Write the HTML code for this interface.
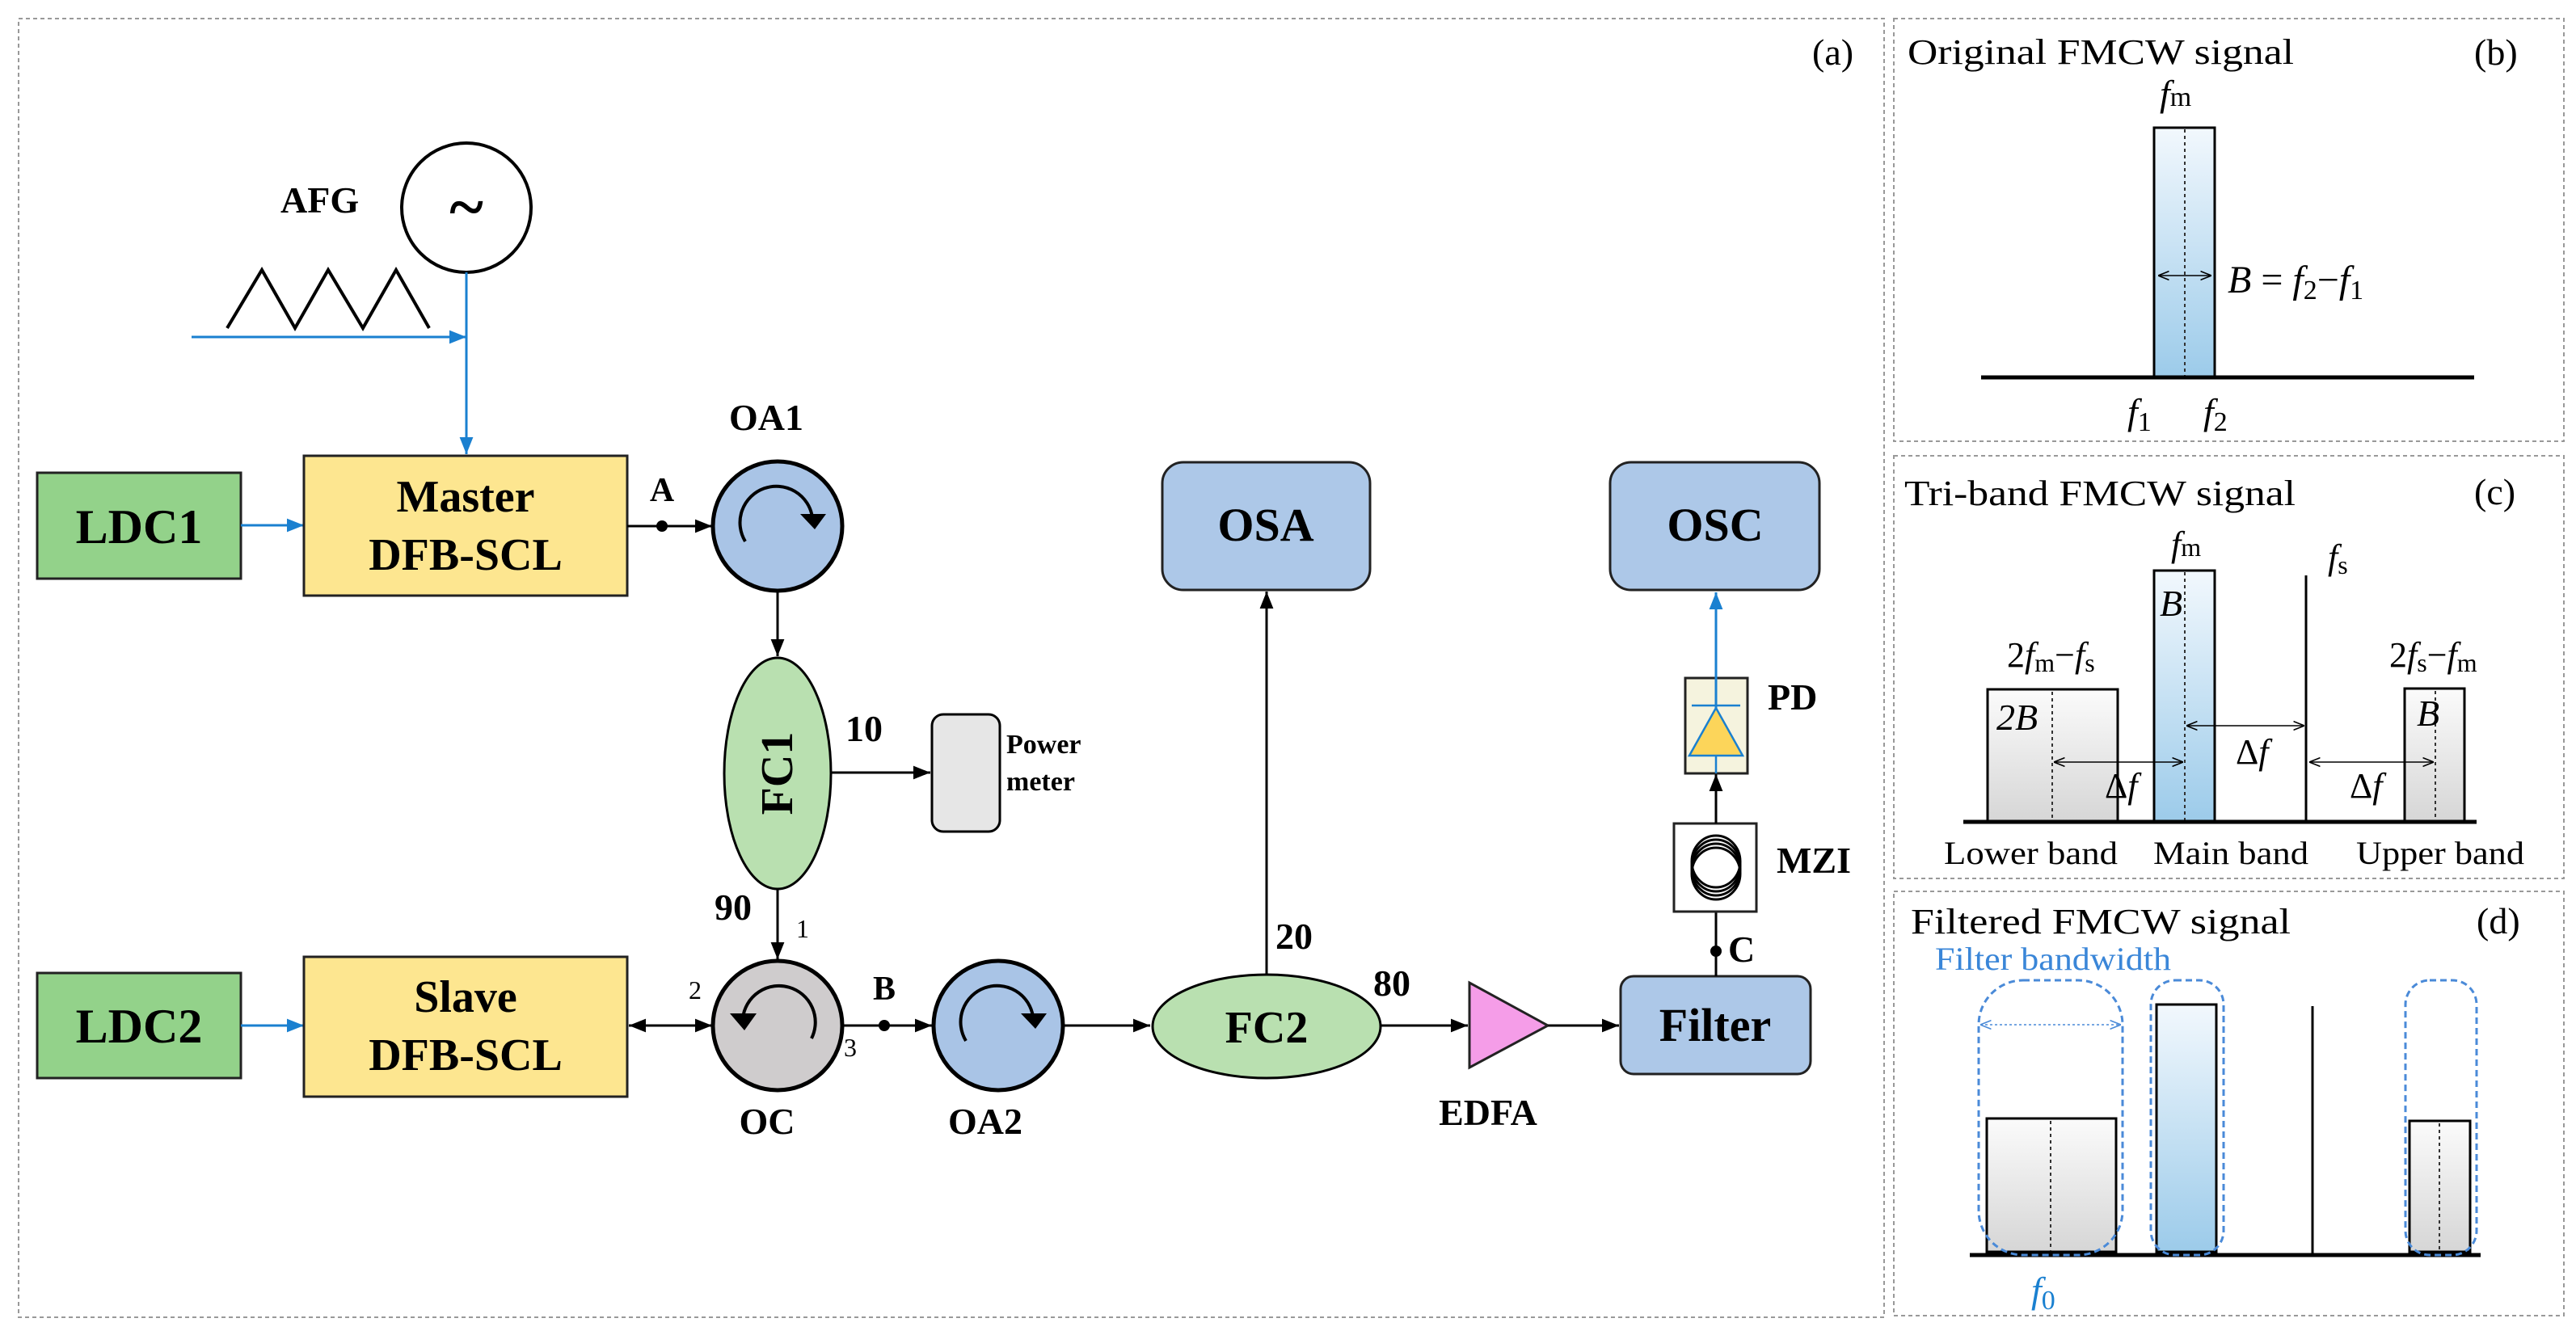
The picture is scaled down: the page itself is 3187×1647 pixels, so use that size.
<!DOCTYPE html>
<html><head><meta charset="utf-8"><style>html,body{margin:0;padding:0;background:#fff}svg{display:block}</style></head>
<body>
<svg width="3187" height="1647" viewBox="0 0 3187 1647" xmlns="http://www.w3.org/2000/svg" font-family="'Liberation Serif', serif">
<defs>
<marker id="ak" viewBox="0 0 10 10" refX="10" refY="5" markerWidth="7" markerHeight="7" orient="auto-start-reverse" markerUnits="strokeWidth"><path d="M0,1 L10,5 L0,9 z" fill="#000"/></marker>
<marker id="ab" viewBox="0 0 10 10" refX="10" refY="5" markerWidth="7" markerHeight="7" orient="auto" markerUnits="strokeWidth"><path d="M0,1 L10,5 L0,9 z" fill="#1a80d0"/></marker>
<marker id="as" viewBox="0 0 10 10" refX="10" refY="5" markerWidth="9" markerHeight="9" orient="auto-start-reverse" markerUnits="strokeWidth"><path d="M0,1 L10,5 L0,9" fill="none" stroke="#000" stroke-width="1.2"/></marker>
<marker id="abd" viewBox="0 0 10 10" refX="10" refY="5" markerWidth="9" markerHeight="9" orient="auto-start-reverse" markerUnits="strokeWidth"><path d="M0,1 L10,5 L0,9" fill="none" stroke="#4a8ad8" stroke-width="1.2"/></marker>
<linearGradient id="gb" x1="0" y1="0" x2="0" y2="1"><stop offset="0" stop-color="#f2f8fd"/><stop offset="1" stop-color="#9ccbea"/></linearGradient>
<linearGradient id="gg" x1="0" y1="0" x2="0" y2="1"><stop offset="0" stop-color="#fbfbfb"/><stop offset="1" stop-color="#d6d6d6"/></linearGradient>
</defs>

<!-- panel borders -->
<g fill="none" stroke="#999" stroke-width="2" stroke-dasharray="5,4">
<rect x="23" y="23" width="2308" height="1607"/>
<rect x="2343" y="23" width="829" height="523"/>
<rect x="2343" y="564" width="829" height="523"/>
<rect x="2343" y="1103" width="829" height="525"/>
</g>

<!-- (a) -->
<g font-weight="bold" fill="#000">
<text x="2242" y="80" font-size="46" font-weight="normal">(a)</text>

<!-- AFG -->
<circle cx="577" cy="257" r="80" fill="#fff" stroke="#000" stroke-width="4"/>
<text x="577" y="283" font-size="80" text-anchor="middle">~</text>
<text x="347" y="263" font-size="46">AFG</text>
<polyline points="281,406 324,334 365,406 406,334 449,406 490,334 531,406" fill="none" stroke="#000" stroke-width="4"/>
<line x1="237" y1="417" x2="577" y2="417" stroke="#1a80d0" stroke-width="3" marker-end="url(#ab)"/>
<line x1="577" y1="337" x2="577" y2="562" stroke="#1a80d0" stroke-width="3" marker-end="url(#ab)"/>

<!-- LDC / lasers -->
<rect x="46" y="585" width="252" height="131" fill="#93d28a" stroke="#222" stroke-width="3"/>
<text x="172" y="672" font-size="60" text-anchor="middle">LDC1</text>
<rect x="46" y="1204" width="252" height="130" fill="#93d28a" stroke="#222" stroke-width="3"/>
<text x="172" y="1290" font-size="60" text-anchor="middle">LDC2</text>
<line x1="298" y1="650" x2="376" y2="650" stroke="#1a80d0" stroke-width="3" marker-end="url(#ab)"/>
<line x1="298" y1="1269" x2="376" y2="1269" stroke="#1a80d0" stroke-width="3" marker-end="url(#ab)"/>
<rect x="376" y="564" width="400" height="173" fill="#fde690" stroke="#222" stroke-width="3"/>
<text x="576" y="633" font-size="56" text-anchor="middle">Master</text>
<text x="576" y="705" font-size="56" text-anchor="middle">DFB-SCL</text>
<rect x="376" y="1184" width="400" height="173" fill="#fde690" stroke="#222" stroke-width="3"/>
<text x="576" y="1252" font-size="56" text-anchor="middle">Slave</text>
<text x="576" y="1324" font-size="56" text-anchor="middle">DFB-SCL</text>

<!-- A -->
<line x1="776" y1="651" x2="881" y2="651" stroke="#000" stroke-width="3" marker-end="url(#ak)"/>
<circle cx="819" cy="651" r="7"/>
<text x="819" y="620" font-size="42" text-anchor="middle">A</text>

<!-- OA1 -->
<circle cx="962" cy="651" r="80" fill="#a9c4e6" stroke="#000" stroke-width="5"/>
<path d="M922,670 A45,45 0 1 1 1005,640" fill="none" stroke="#000" stroke-width="4"/>
<path d="M990,636 L1022,636 L1008,655 z" fill="#000"/>
<text x="948" y="532" font-size="46" text-anchor="middle">OA1</text>
<line x1="962" y1="731" x2="962" y2="812" stroke="#000" stroke-width="3" marker-end="url(#ak)"/>

<!-- FC1 -->
<ellipse cx="962" cy="957" rx="66" ry="143" fill="#b9e0b0" stroke="#000" stroke-width="3"/>
<text transform="translate(980,957) rotate(-90)" font-size="56" text-anchor="middle">FC1</text>
<text x="1046" y="917" font-size="46">10</text>
<line x1="1028" y1="956" x2="1151" y2="956" stroke="#000" stroke-width="3" marker-end="url(#ak)"/>
<rect x="1153" y="884" width="84" height="145" rx="14" fill="#e6e6e6" stroke="#000" stroke-width="3"/>
<text x="1245" y="932" font-size="34">Power</text>
<text x="1245" y="978" font-size="34">meter</text>
<text x="884" y="1138" font-size="46">90</text>
<text x="985" y="1160" font-size="32" font-weight="normal">1</text>
<line x1="962" y1="1100" x2="962" y2="1187" stroke="#000" stroke-width="3" marker-end="url(#ak)"/>

<!-- OC -->
<circle cx="962" cy="1269" r="80" fill="#cfcccd" stroke="#000" stroke-width="5"/>
<path d="M919,1260 A45,45 0 1 1 1004,1285" fill="none" stroke="#000" stroke-width="4"/>
<path d="M903,1254 L936,1254 L921,1275 z" fill="#000"/>
<text x="949" y="1403" font-size="46" text-anchor="middle">OC</text>
<text x="852" y="1236" font-size="32" font-weight="normal">2</text>
<text x="1044" y="1307" font-size="32" font-weight="normal">3</text>
<line x1="778" y1="1269" x2="881" y2="1269" stroke="#000" stroke-width="3" marker-start="url(#ak)" marker-end="url(#ak)"/>

<!-- B / OA2 -->
<line x1="1042" y1="1269" x2="1153" y2="1269" stroke="#000" stroke-width="3" marker-end="url(#ak)"/>
<circle cx="1094" cy="1269" r="7"/>
<text x="1094" y="1237" font-size="42" text-anchor="middle">B</text>
<circle cx="1235" cy="1269" r="80" fill="#a9c4e6" stroke="#000" stroke-width="5"/>
<path d="M1195,1288 A45,45 0 1 1 1278,1258" fill="none" stroke="#000" stroke-width="4"/>
<path d="M1263,1254 L1295,1254 L1281,1273 z" fill="#000"/>
<text x="1219" y="1403" font-size="46" text-anchor="middle">OA2</text>
<line x1="1315" y1="1269" x2="1423" y2="1269" stroke="#000" stroke-width="3" marker-end="url(#ak)"/>

<!-- FC2 -->
<ellipse cx="1567" cy="1270" rx="141" ry="64" fill="#b9e0b0" stroke="#000" stroke-width="3"/>
<text x="1567" y="1290" font-size="56" text-anchor="middle">FC2</text>
<line x1="1567" y1="1206" x2="1567" y2="732" stroke="#000" stroke-width="3" marker-end="url(#ak)"/>
<text x="1578" y="1174" font-size="46">20</text>
<rect x="1438" y="572" width="257" height="158" rx="26" fill="#adc8e8" stroke="#222" stroke-width="3"/>
<text x="1566" y="669" font-size="58" text-anchor="middle">OSA</text>
<text x="1699" y="1232" font-size="46">80</text>
<line x1="1708" y1="1269" x2="1816" y2="1269" stroke="#000" stroke-width="3" marker-end="url(#ak)"/>

<!-- EDFA -->
<polygon points="1818,1216 1818,1321 1915,1269" fill="#f59de8" stroke="#222" stroke-width="3"/>
<text x="1841" y="1392" font-size="46" text-anchor="middle">EDFA</text>
<line x1="1915" y1="1269" x2="2003" y2="1269" stroke="#000" stroke-width="3" marker-end="url(#ak)"/>

<!-- Filter -->
<rect x="2005" y="1208" width="235" height="121" rx="16" fill="#adc8e8" stroke="#222" stroke-width="3"/>
<text x="2122" y="1288" font-size="58" text-anchor="middle">Filter</text>
<line x1="2123" y1="1208" x2="2123" y2="1019" stroke="#000" stroke-width="3" marker-end="url(#ak)"/>
<circle cx="2123" cy="1177" r="7"/>
<text x="2138" y="1190" font-size="46">C</text>

<!-- MZI -->
<rect x="2071" y="1019" width="102" height="109" fill="#fff" stroke="#222" stroke-width="3"/>
<g fill="none" stroke="#000" stroke-width="3">
<ellipse cx="2123" cy="1066" rx="30" ry="32"/>
<ellipse cx="2123" cy="1071" rx="30" ry="32"/>
<ellipse cx="2123" cy="1076" rx="30" ry="32"/>
<ellipse cx="2123" cy="1081" rx="30" ry="32"/>
</g>
<text x="2198" y="1080" font-size="46">MZI</text>
<line x1="2123" y1="1019" x2="2123" y2="958" stroke="#000" stroke-width="3" marker-end="url(#ak)"/>

<!-- PD -->
<rect x="2085" y="839" width="77" height="118" fill="#f5f3de" stroke="#222" stroke-width="3"/>
<polygon points="2123,876 2090,935 2156,935" fill="#fcd55a" stroke="#1a80d0" stroke-width="2.5"/>
<line x1="2093" y1="873" x2="2153" y2="873" stroke="#1a80d0" stroke-width="2.5"/>
<line x1="2123" y1="935" x2="2123" y2="957" stroke="#1a80d0" stroke-width="2.5"/>
<line x1="2123" y1="876" x2="2123" y2="733" stroke="#1a80d0" stroke-width="3" marker-end="url(#ab)"/>
<text x="2187" y="878" font-size="46">PD</text>

<!-- OSC -->
<rect x="1992" y="572" width="259" height="158" rx="26" fill="#adc8e8" stroke="#222" stroke-width="3"/>
<text x="2122" y="669" font-size="58" text-anchor="middle">OSC</text>
</g>

<!-- (b) -->
<g fill="#000" font-size="44">
<text x="2360" y="79" textLength="478" lengthAdjust="spacingAndGlyphs">Original FMCW signal</text>
<text x="3061" y="80" font-size="46">(b)</text>
<rect x="2665" y="158" width="75" height="309" fill="url(#gb)" stroke="#000" stroke-width="3"/>
<line x1="2703" y1="160" x2="2703" y2="466" stroke="#333" stroke-width="2" stroke-dasharray="4,4"/>
<text x="2672" y="131" font-size="46" font-style="italic">f<tspan font-style="normal" font-size="34">m</tspan></text>
<line x1="2670" y1="341" x2="2736" y2="341" stroke="#000" stroke-width="1.5" marker-start="url(#as)" marker-end="url(#as)"/>
<text x="2756" y="362" font-size="48" font-style="italic">B <tspan font-style="normal">=</tspan> f<tspan font-style="normal" font-size="34" dy="8">2</tspan><tspan dy="-8" font-style="normal">−</tspan>f<tspan font-style="normal" font-size="34" dy="8">1</tspan></text>
<line x1="2451" y1="467" x2="3061" y2="467" stroke="#000" stroke-width="5"/>
<text x="2632" y="525" font-size="46" font-style="italic">f<tspan font-style="normal" font-size="34" dy="8">1</tspan></text>
<text x="2726" y="525" font-size="46" font-style="italic">f<tspan font-style="normal" font-size="34" dy="8">2</tspan></text>
</g>

<!-- (c) -->
<g fill="#000" font-size="44">
<text x="2356" y="625" textLength="484" lengthAdjust="spacingAndGlyphs">Tri-band FMCW signal</text>
<text x="3061" y="624" font-size="46">(c)</text>
<rect x="2459" y="853" width="161" height="164" fill="url(#gg)" stroke="#000" stroke-width="3"/>
<line x1="2539" y1="856" x2="2539" y2="1016" stroke="#333" stroke-width="2" stroke-dasharray="4,4"/>
<rect x="2665" y="706" width="75" height="311" fill="url(#gb)" stroke="#000" stroke-width="3"/>
<line x1="2703" y1="708" x2="2703" y2="1016" stroke="#333" stroke-width="2" stroke-dasharray="4,4"/>
<rect x="2975" y="852" width="74" height="165" fill="url(#gg)" stroke="#000" stroke-width="3"/>
<line x1="3013" y1="855" x2="3013" y2="1016" stroke="#333" stroke-width="2" stroke-dasharray="4,4"/>
<line x1="2853" y1="712" x2="2853" y2="1017" stroke="#000" stroke-width="3"/>
<text x="2686" y="688" font-size="44" font-style="italic">f<tspan font-style="normal" font-size="32">m</tspan></text>
<text x="2880" y="704" font-size="44" font-style="italic">f<tspan font-style="normal" font-size="32" dy="6">s</tspan></text>
<text x="2672" y="762" font-size="46" font-style="italic">B</text>
<text x="2470" y="903" font-size="46" font-style="italic">2B</text>
<text x="2990" y="898" font-size="46" font-style="italic">B</text>
<text x="2483" y="825" font-size="44">2<tspan font-style="italic">f</tspan><tspan font-size="32" dy="6">m</tspan><tspan dy="-6">−</tspan><tspan font-style="italic">f</tspan><tspan font-size="32" dy="6">s</tspan></text>
<text x="2956" y="825" font-size="44">2<tspan font-style="italic">f</tspan><tspan font-size="32" dy="6">s</tspan><tspan dy="-6">−</tspan><tspan font-style="italic">f</tspan><tspan font-size="32" dy="6">m</tspan></text>
<line x1="2541" y1="943" x2="2701" y2="943" stroke="#000" stroke-width="1.5" marker-start="url(#as)" marker-end="url(#as)"/>
<line x1="2705" y1="898" x2="2851" y2="898" stroke="#000" stroke-width="1.5" marker-start="url(#as)" marker-end="url(#as)"/>
<line x1="2857" y1="943" x2="3011" y2="943" stroke="#000" stroke-width="1.5" marker-start="url(#as)" marker-end="url(#as)"/>
<text x="2604" y="987" font-size="44">Δ<tspan font-style="italic">f</tspan></text>
<text x="2766" y="945" font-size="44">Δ<tspan font-style="italic">f</tspan></text>
<text x="2907" y="987" font-size="44">Δ<tspan font-style="italic">f</tspan></text>
<line x1="2429" y1="1017" x2="3064" y2="1017" stroke="#000" stroke-width="5"/>
<text x="2405" y="1069" font-size="40" textLength="215" lengthAdjust="spacingAndGlyphs">Lower band</text>
<text x="2664" y="1069" font-size="40" textLength="192" lengthAdjust="spacingAndGlyphs">Main band</text>
<text x="2915" y="1069" font-size="40" textLength="208" lengthAdjust="spacingAndGlyphs">Upper band</text>
</g>

<!-- (d) -->
<g fill="#000" font-size="44">
<text x="2364" y="1155" textLength="470" lengthAdjust="spacingAndGlyphs">Filtered FMCW signal</text>
<text x="3064" y="1155" font-size="46">(d)</text>
<text x="2394" y="1200" font-size="40" fill="#3a86d8" textLength="292" lengthAdjust="spacingAndGlyphs">Filter bandwidth</text>
<rect x="2458" y="1384" width="160" height="165" fill="url(#gg)" stroke="#000" stroke-width="3"/>
<line x1="2537" y1="1387" x2="2537" y2="1548" stroke="#333" stroke-width="2" stroke-dasharray="4,4"/>
<rect x="2668" y="1243" width="74" height="306" fill="url(#gb)" stroke="#000" stroke-width="3"/>
<rect x="2981" y="1387" width="75" height="162" fill="url(#gg)" stroke="#000" stroke-width="3"/>
<line x1="3018" y1="1390" x2="3018" y2="1548" stroke="#333" stroke-width="2" stroke-dasharray="4,4"/>
<line x1="2861" y1="1245" x2="2861" y2="1553" stroke="#000" stroke-width="3"/>
<line x1="2437" y1="1553" x2="3069" y2="1553" stroke="#000" stroke-width="5"/>
<g fill="none" stroke="#4a8ad8" stroke-width="3" stroke-dasharray="8,5">
<rect x="2448" y="1213" width="178" height="340" rx="55"/>
<rect x="2661" y="1213" width="90" height="340" rx="30"/>
<rect x="2976" y="1213" width="88" height="340" rx="30"/>
</g>
<line x1="2450" y1="1268" x2="2624" y2="1268" stroke="#4a8ad8" stroke-width="1.5" stroke-dasharray="3,3" marker-start="url(#abd)" marker-end="url(#abd)"/>
<text x="2513" y="1612" font-size="46" font-style="italic" fill="#1a80d0">f<tspan font-style="normal" font-size="34" dy="8">0</tspan></text>
</g>
</svg>
</body></html>
